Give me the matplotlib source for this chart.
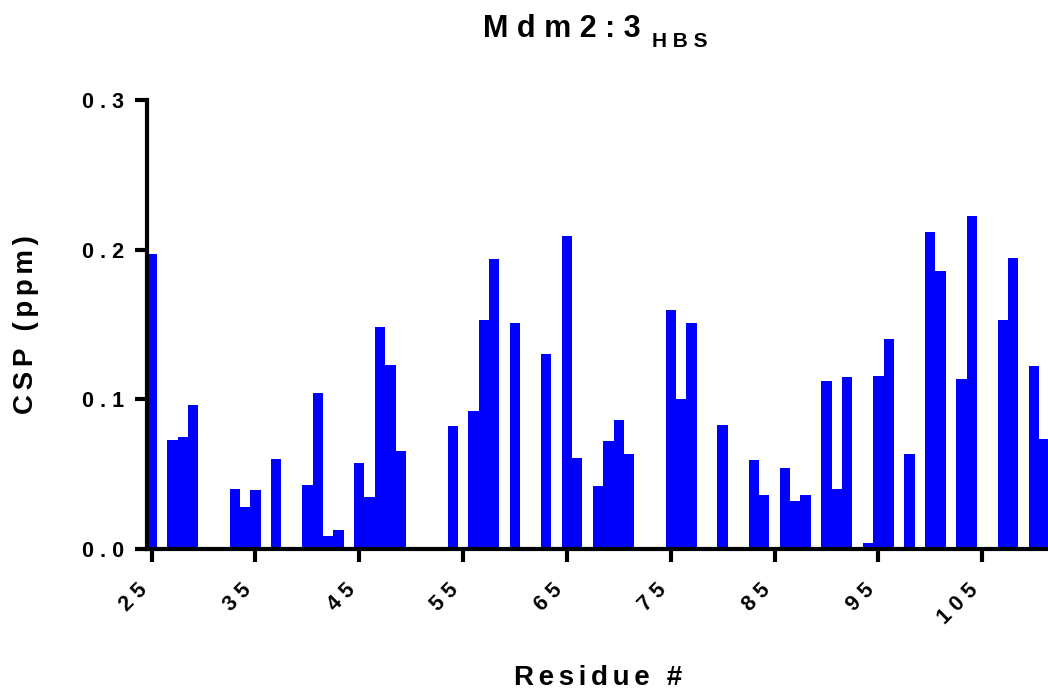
import matplotlib
matplotlib.use("Agg")
import matplotlib.pyplot as plt
from matplotlib.ticker import FixedLocator

residues = [25, 27, 28, 29, 33, 34, 35, 37, 40, 41, 42, 43, 45, 46, 47, 48, 49,
            54, 56, 57, 58, 60, 63, 65, 66, 68, 69, 70, 71, 75, 76, 77, 80,
            83, 84, 86, 87, 88, 90, 91, 92, 94, 95, 96, 98, 100, 101, 103, 104,
            107, 108, 110, 111]
csp = [0.197, 0.073, 0.0745, 0.096, 0.040, 0.028, 0.0395, 0.060, 0.043, 0.104,
       0.009, 0.013, 0.0577, 0.035, 0.148, 0.1227, 0.0656,
       0.082, 0.092, 0.153, 0.194, 0.151, 0.130, 0.209, 0.061, 0.042, 0.072,
       0.0865, 0.0636, 0.160, 0.100, 0.1507, 0.083,
       0.0596, 0.036, 0.0544, 0.0322, 0.0364, 0.1124, 0.040, 0.115, 0.004,
       0.1158, 0.1404, 0.0633, 0.212, 0.186, 0.1138, 0.2224,
       0.1533, 0.1947, 0.1224, 0.0736]
x_ticks = [25, 35, 45, 55, 65, 75, 85, 95, 105]
y_ticks = [0.0, 0.1, 0.2, 0.3]

plt.rcParams['font.family'] = ['Liberation Sans', 'DejaVu Sans']
plt.rcParams['font.weight'] = 'bold'

def spaced(s, sep=" "):
    return sep.join(list(s))

fig = plt.figure(figsize=(10.48, 6.92), dpi=100)
ax = fig.add_axes([146.5 / 1048, 143 / 692, (1049.6 - 146.5) / 1048, 449 / 692])

ax.bar(residues, csp, width=1.0, color='#0000ff', linewidth=0, zorder=1)

ax.set_xlim(24.5, 111.5)
ax.set_ylim(0, 0.3)

for side in ['top', 'right']:
    ax.spines[side].set_visible(False)
for side in ['left', 'bottom']:
    ax.spines[side].set_linewidth(3.0)
    ax.spines[side].set_zorder(3)

ax.xaxis.set_major_locator(FixedLocator(x_ticks))
ax.yaxis.set_major_locator(FixedLocator(y_ticks))
ax.set_xticklabels([spaced(str(t)) for t in x_ticks])
ax.set_yticklabels([spaced(f"{t:.1f}") for t in y_ticks])
ax.tick_params(axis='both', direction='out', length=9, width=3.0, labelsize=15.5)
ax.tick_params(axis='y', pad=7)
ax.tick_params(axis='x', pad=13)
for lab in ax.get_xticklabels():
    lab.set_rotation(45)
    lab.set_ha('right')
    lab.set_va('top')
    lab.set_rotation_mode('default')
    lab.set_fontweight('bold')
for lab in ax.get_yticklabels():
    lab.set_fontweight('bold')

ax.set_xlabel(spaced("Residue #", "\u2006"), fontsize=20, fontweight='bold', va='baseline')
ax.xaxis.set_label_coords(0.5, (692 - 685 - 143) / 449)
ax.set_ylabel(spaced("CSP (ppm)", "\u2006"), fontsize=20, fontweight='bold', va='center')
ax.yaxis.set_label_coords((26 - 146.5) / 903, 0.5)

fig.text(483 / 1048, (692 - 37.3) / 692, spaced("Mdm2:3"), fontsize=22, fontweight='bold',
         ha='left', va='baseline')
fig.text(652 / 1048, (692 - 46.7) / 692, spaced("HBS"), fontsize=15, fontweight='bold',
         ha='left', va='baseline')

fig.savefig("out.png", dpi=100)
